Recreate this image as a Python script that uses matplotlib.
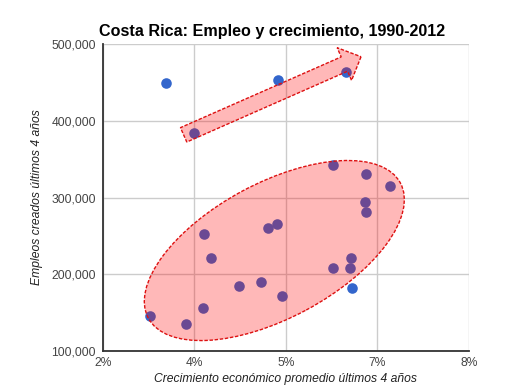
import matplotlib
matplotlib.use('Agg')
import matplotlib.pyplot as plt
from matplotlib.patches import Ellipse, FancyArrow
from matplotlib.transforms import Affine2D
from matplotlib.ticker import StrMethodFormatter

plt.rcParams['font.family'] = ['Liberation Sans', 'DejaVu Sans']

# 1. Data (growth in %, jobs created in last 4 years)
growth = [3.04, 4.87, 5.99, 3.50, 5.77, 6.32, 6.71, 6.30, 6.32, 4.86, 4.70, 3.66,
          3.78, 6.07, 5.77, 6.06, 6.09, 4.24, 4.60, 4.94, 3.65, 2.77, 3.37]
jobs = [450000, 454000, 463500, 384500, 343000, 331000, 315000, 294500, 281000,
        265500, 260500, 252000, 220500, 221000, 208000, 208000, 182500, 184000,
        190000, 172000, 156000, 145000, 134500]

x_ticks = [2, 3.5, 5, 6.5, 8]
x_tick_labels = ['2%', '4%', '5%', '7%', '8%']
y_ticks = [100000, 200000, 300000, 400000, 500000]

title = 'Costa Rica: Empleo y crecimiento, 1990-2012'
x_label = 'Crecimiento económico promedio últimos 4 años'
y_label = 'Empleos creados últimos 4 años'

# 2. Figure
fig = plt.figure(figsize=(5.08, 3.92), dpi=100)
ax = fig.add_axes([0.2024, 0.1053, 0.7205, 0.7816])

ax.scatter(growth, jobs, s=58, color='#3366cc', zorder=3, linewidths=0)

ax.set_xlim(2, 8)
ax.set_ylim(100000, 500000)
ax.set_xticks(x_ticks)
ax.set_xticklabels(x_tick_labels)
ax.set_yticks(y_ticks)
ax.yaxis.set_major_formatter(StrMethodFormatter('{x:,.0f}'))
ax.tick_params(length=0, labelsize=8.7, colors='#444444')
ax.tick_params(axis='y', pad=5)
ax.tick_params(axis='x', pad=4.5)
ax.grid(True, color='#cccccc', linewidth=1)
ax.set_axisbelow(True)

for side in ['top', 'right']:
    ax.spines[side].set_visible(False)
for side in ['left', 'bottom']:
    ax.spines[side].set_color('#333333')
    ax.spines[side].set_linewidth(1.3)

ax.set_xlabel(x_label, fontsize=8.7, style='italic', color='#222222', labelpad=3)
ax.set_ylabel(y_label, fontsize=8.7, style='italic', color='#222222', labelpad=6)
fig.text(0.536, 0.908, title, fontsize=11.6, fontweight='bold', ha='center', va='baseline')

# 3. Annotations drawn in a pixel frame anchored at the axes origin
AX_W, AX_H = 366.0, 306.4
pix = Affine2D().scale(1 / AX_W, 1 / AX_H) + ax.transAxes

ell = Ellipse((171.5, 100.2), 286, 135, angle=28.2, transform=pix,
              facecolor=(1, 0, 0, 0.28), edgecolor='#dd1111',
              linestyle=(0, (2.5, 1.2)), linewidth=1.0, zorder=4)
ax.add_patch(ell)

arr = FancyArrow(80.8, 215.9, 177.4, 78.1, width=15.7, head_width=35.7,
                 head_length=18.2, length_includes_head=True, transform=pix,
                 facecolor=(1, 0, 0, 0.28), edgecolor='#dd1111',
                 linestyle=(0, (2.5, 1.2)), linewidth=1.0, zorder=4)
ax.add_patch(arr)

plt.savefig('out.png', dpi=100)
